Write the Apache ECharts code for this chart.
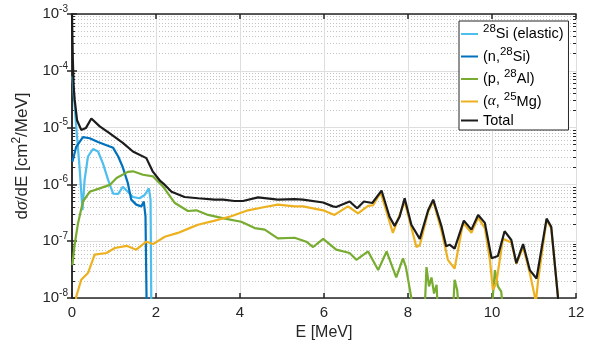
<!DOCTYPE html>
<html>
<head>
<meta charset="utf-8">
<script src="https://cdn.jsdelivr.net/npm/echarts@6/dist/echarts.min.js"></script>
<style>
html, body { margin: 0; padding: 0; background: #fff; }
#chart { width: 594px; height: 347px; }
</style>
</head>
<body>
<div id="chart"></div>
<script>
// [E (MeV), dsigma/dE (cm^2/MeV)]
var elasticData = [
    [0.01, 8e-5], [0.10, 1.05e-5], [0.18, 2.0e-6], [0.25, 3.5e-7], [0.30, 1.2e-6],
    [0.38, 3.1e-6], [0.50, 4.2e-6], [0.62, 3.8e-6], [0.74, 2.3e-6], [0.86, 1.2e-6],
    [0.98, 6.9e-7], [1.10, 6.8e-7], [1.21, 9.1e-7], [1.33, 7.4e-7], [1.45, 6.0e-7],
    [1.61, 5.7e-7], [1.73, 6.5e-7], [1.83, 8.5e-7], [1.87, 5.4e-7], [1.89, 5e-9]
];
var nSiData = [
    [0.01, 2.5e-6], [0.10, 4.6e-6], [0.26, 6.8e-6], [0.42, 6.5e-6], [0.62, 5.6e-6],
    [0.82, 4.9e-6], [0.98, 4.4e-6], [1.10, 3.1e-6], [1.21, 2.0e-6], [1.33, 1.05e-6],
    [1.41, 5.4e-7], [1.53, 4.4e-7], [1.65, 4.1e-7], [1.71, 5.0e-7], [1.75, 2.7e-7],
    [1.78, 5e-9]
];
var pAlData = [
    [0.01, 3.8e-8], [0.06, 8.5e-8], [0.14, 2.0e-7], [0.26, 5.0e-7], [0.42, 7.4e-7],
    [0.66, 8.5e-7], [0.90, 9.8e-7], [1.06, 1.3e-6], [1.33, 1.66e-6], [1.45, 1.7e-6],
    [1.69, 1.48e-6], [1.93, 1.38e-6], [2.17, 9.1e-7], [2.45, 4.7e-7], [2.76, 3.4e-7],
    [2.96, 3.5e-7], [3.24, 2.9e-7], [3.64, 2.5e-7], [4.03, 2.2e-7], [4.35, 1.7e-7],
    [4.59, 1.6e-7], [4.90, 1.12e-7], [5.30, 1.15e-7], [5.58, 9.8e-8], [5.74, 7.9e-8],
    [5.98, 1.1e-7], [6.29, 7.1e-8], [6.61, 6.2e-8], [6.77, 4.7e-8], [7.05, 6.6e-8],
    [7.29, 3.1e-8], [7.49, 6.6e-8], [7.72, 2.3e-8], [7.88, 5.0e-8], [7.95, 3.5e-8],
    [8.08, 1e-8], [8.10, 3e-9], [8.2, null],
    [8.38, 3e-9], [8.44, 3.5e-8], [8.50, 1.6e-8], [8.56, 2.3e-8], [8.62, 1.2e-8],
    [8.68, 1.7e-8], [8.73, 3e-9], [8.9, null],
    [9.05, 3e-9], [9.11, 2.1e-8], [9.17, 1.4e-8], [9.25, 3e-9], [9.6, null],
    [9.96, 3e-9], [10.07, 3.1e-8], [10.14, 1.6e-8], [10.22, 1.3e-8], [10.30, 3e-9]
];
var alphaMgData = [
    [0.07, 5e-9], [0.10, 1.05e-8], [0.22, 2.1e-8], [0.38, 2.75e-8], [0.54, 5.8e-8],
    [0.82, 6.2e-8], [1.02, 7.6e-8], [1.30, 8.3e-8], [1.53, 7.1e-8], [1.77, 9.8e-8],
    [1.93, 8.9e-8], [2.21, 1.2e-7], [2.52, 1.4e-7], [2.80, 1.7e-7], [3.00, 1.95e-7],
    [3.40, 2.3e-7], [3.79, 2.75e-7], [4.19, 3.5e-7], [4.59, 4.0e-7], [4.90, 4.4e-7],
    [5.30, 4.1e-7], [5.50, 4.1e-7], [5.98, 3.5e-7], [6.25, 2.9e-7], [6.57, 4.1e-7],
    [6.81, 3.1e-7], [7.05, 4.2e-7], [7.17, 4.3e-7], [7.35, 7.2e-7], [7.64, 1.4e-7],
    [7.92, 5.0e-7], [8.20, 7.9e-8], [8.28, 8.5e-8], [8.48, 3.3e-7], [8.60, 5.1e-7],
    [8.80, 1.5e-7], [8.95, 4.7e-8], [9.11, 3.3e-8], [9.31, 2.1e-7], [9.51, 1.4e-7],
    [9.67, 2.6e-7], [9.83, 1.7e-7], [9.95, 4.7e-8], [10.02, 1.4e-8], [10.10, 1.8e-8],
    [10.26, 1.1e-7], [10.46, 9.5e-8], [10.58, 4.0e-8], [10.74, 7.9e-8], [10.90, 2.75e-8],
    [11.02, 1.05e-8], [11.04, 8e-9], [11.10, 2.1e-8], [11.30, 2.4e-7], [11.41, 1.7e-7],
    [11.57, 1.05e-8], [11.60, 5e-9]
];
var totalData = [
    [0.00, 1e-3], [0.02, 1.6e-4], [0.04, 5.2e-5], [0.064, 3.1e-5], [0.12, 1.35e-5],
    [0.22, 9.1e-6], [0.33, 9.8e-6], [0.46, 1.45e-5], [0.66, 1.05e-5], [0.90, 7.9e-6],
    [1.21, 5.4e-6], [1.45, 3.8e-6], [1.77, 2.9e-6], [1.92, 1.7e-6], [2.10, 1.15e-6],
    [2.21, 9.8e-7], [2.37, 7.4e-7], [2.68, 6.0e-7], [3.00, 5.7e-7], [3.40, 5.4e-7],
    [3.60, 5.4e-7], [3.87, 5.1e-7], [4.07, 5.1e-7], [4.43, 5.9e-7], [4.90, 5.4e-7],
    [5.30, 5.5e-7], [5.50, 5.4e-7], [5.98, 4.8e-7], [6.21, 4.1e-7], [6.29, 4.0e-7],
    [6.61, 5.0e-7], [6.79, 3.8e-7], [6.95, 5.0e-7], [7.15, 4.7e-7], [7.37, 7.8e-7],
    [7.56, 2.7e-7], [7.68, 1.86e-7], [7.80, 2.7e-7], [7.92, 5.7e-7], [8.08, 1.95e-7],
    [8.28, 1.1e-7], [8.48, 3.5e-7], [8.60, 5.4e-7], [8.80, 1.8e-7], [8.91, 8.1e-8],
    [8.99, 8.7e-8], [9.11, 7.4e-8], [9.33, 2.3e-7], [9.51, 1.6e-7], [9.67, 2.9e-7],
    [9.83, 2.1e-7], [9.99, 5.0e-8], [10.14, 5.5e-8], [10.30, 1.5e-7], [10.46, 1.05e-7],
    [10.58, 4.1e-8], [10.74, 8.9e-8], [10.90, 3.1e-8], [11.06, 2.2e-8], [11.30, 2.5e-7],
    [11.41, 1.8e-7], [11.57, 1.05e-8], [11.60, 5e-9]
];

var seriesNames = ['28Si (elastic)', '(n,28Si)', '(p,28Al)', '(alpha,25Mg)', 'Total'];
var legendLabels = [
    '{sup|28}Si (elastic)',
    '(n,{sup|28}Si)',
    '(p, {sup|28}Al)',
    '({greek|\u03b1}, {sup|25}Mg)',
    'Total'
];
var seriesColors = ['#4DBEEE', '#0072BD', '#77AC30', '#EDB120', '#1c1c1c'];
var seriesData = [elasticData, nSiData, pAlData, alphaMgData, totalData];

var yDecades = [-8, -7, -6, -5, -4, -3];
var minorSteps = [2, 3, 4, 5, 6, 7, 8, 9];

var minorValues = [];
for (var d = 0; d < yDecades.length - 1; d++) {
    for (var k = 0; k < minorSteps.length; k++) {
        minorValues.push(minorSteps[k] * Math.pow(10, yDecades[d]));
    }
}

var font = 'Liberation Sans, Arial, sans-serif';
var serif = 'Liberation Serif, serif';
var axisColor = '#262626';

var chart = echarts.init(document.getElementById('chart'), null, { renderer: 'canvas' });

var series = [];
for (var i = 0; i < seriesNames.length; i++) {
    series.push({
        name : seriesNames[i],
        type : 'line',
        data : seriesData[i],
        xAxisIndex : 0,
        yAxisIndex : 0,
        showSymbol : false,
        symbol : 'none',
        connectNulls : false,
        clip : true,
        lineStyle : { color : seriesColors[i], width : 2.2 },
        itemStyle : { color : seriesColors[i] },
        z : 10 + i
    });
}

var tickRich = {
    sup : { fontSize : 10, fontFamily : font, color : axisColor, padding : [0, 0, 10, 0] }
};
var nameRich = {
    sup : { fontSize : 12, fontFamily : font, color : axisColor, padding : [0, 0, 11, 0] },
    greek : { fontSize : 18, fontFamily : serif, fontStyle : 'italic', color : axisColor }
};

function yLabel(v) {
    var e = Math.round(Math.log(v) / Math.LN10);
    return '10{sup|' + e + '}';
}

var option = {
    animation : false,
    backgroundColor : '#fff',
    grid : { left : 72, right : 18, top : 14, bottom : 49 },
    legend : {
        data : seriesNames,
        orient : 'vertical',
        left : 459,
        top : 21,
        padding : [2, 5, 2, 2],
        itemGap : 4,
        itemWidth : 17,
        itemHeight : 2,
        icon : 'rect',
        backgroundColor : '#fff',
        borderColor : axisColor,
        borderWidth : 1,
        selectedMode : false,
        textStyle : {
            fontSize : 14.5,
            fontFamily : font,
            color : '#000',
            rich : {
                sup : { fontSize : 11.5, fontFamily : font, color : '#000', padding : [0, 0, 10, 0] },
                greek : { fontSize : 15, fontFamily : serif, fontStyle : 'italic', color : '#000' }
            }
        },
        formatter : function (name) {
            return legendLabels[seriesNames.indexOf(name)];
        }
    },
    xAxis : [{
            type : 'value',
            position : 'bottom',
            min : 0,
            max : 12,
            interval : 2,
            name : 'E [MeV]',
            nameLocation : 'middle',
            nameGap : 26,
            nameTextStyle : { fontSize : 16, fontFamily : font, color : axisColor },
            axisLine : { show : true, lineStyle : { color : axisColor, width : 1.5 } },
            axisTick : { show : true, inside : true, length : 5, lineStyle : { color : axisColor, width : 1.5 } },
            axisLabel : { fontSize : 15, fontFamily : font, color : axisColor, margin : 7 },
            splitLine : { show : true, lineStyle : { color : '#dedede', width : 1 } }
        }, {
            type : 'value',
            position : 'top',
            min : 0,
            max : 12,
            interval : 2,
            axisLine : { show : true, lineStyle : { color : axisColor, width : 1.5 } },
            axisTick : { show : true, inside : true, length : 5, lineStyle : { color : axisColor, width : 1.5 } },
            axisLabel : { show : false },
            splitLine : { show : false }
        }
    ],
    yAxis : [{
            type : 'log',
            logBase : 10,
            position : 'left',
            min : 1e-8,
            max : 1e-3,
            interval : 1,
            name : 'd{greek|\u03c3}/dE [cm{sup|2}/MeV]',
            nameLocation : 'middle',
            nameRotate : 90,
            nameGap : 37,
            nameTextStyle : { fontSize : 17, fontFamily : font, color : axisColor, rich : nameRich },
            axisLine : { show : true, lineStyle : { color : axisColor, width : 1.5 } },
            axisTick : { show : true, inside : true, length : 5, lineStyle : { color : axisColor, width : 1.5 } },
            axisLabel : {
                fontSize : 15, fontFamily : font, color : axisColor, margin : 4,
                formatter : yLabel,
                rich : tickRich
            },
            splitLine : { show : true, lineStyle : { color : '#dedede', width : 1 } }
        }, {
            type : 'log',
            logBase : 10,
            position : 'right',
            min : 1e-8,
            max : 1e-3,
            interval : 1,
            axisLine : { show : true, lineStyle : { color : axisColor, width : 1.5 } },
            axisTick : { show : true, inside : true, length : 5, lineStyle : { color : axisColor, width : 1.5 } },
            axisLabel : { show : false },
            splitLine : { show : false }
        }, {
            type : 'log',
            logBase : 10,
            position : 'left',
            min : 1e-8,
            max : 1e-3,
            axisLine : { show : false },
            axisTick : { show : true, inside : true, length : 3, customValues : minorValues, lineStyle : { color : axisColor, width : 1 } },
            axisLabel : { show : false },
            splitLine : { show : true, lineStyle : { color : '#c4c4c4', width : 1, type : [1, 2] } }
        }, {
            type : 'log',
            logBase : 10,
            position : 'right',
            min : 1e-8,
            max : 1e-3,
            axisLine : { show : false },
            axisTick : { show : true, inside : true, length : 3, customValues : minorValues, lineStyle : { color : axisColor, width : 1 } },
            axisLabel : { show : false },
            splitLine : { show : false }
        }
    ],
    series : series
};

chart.setOption(option);
</script>
</body>
</html>
